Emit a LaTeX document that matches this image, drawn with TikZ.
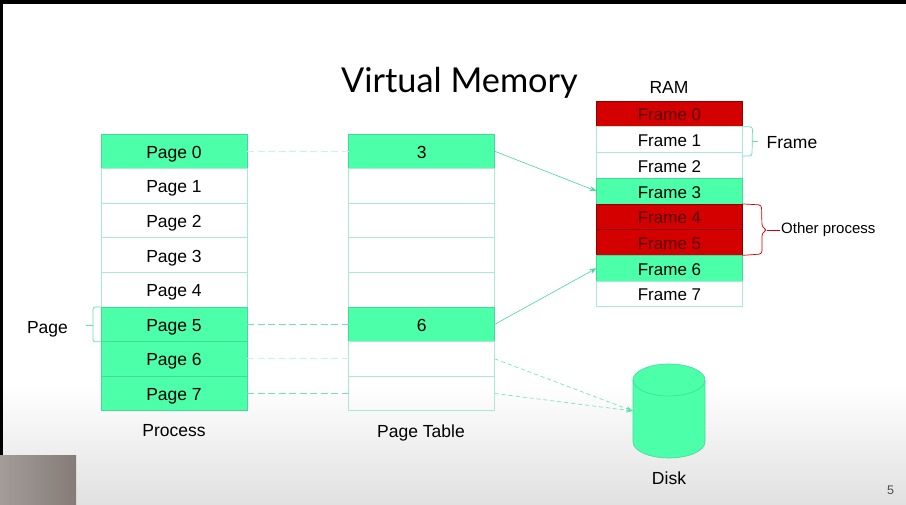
\documentclass[tikz,border=0pt]{standalone}
\usepackage{fontspec}
\setmainfont{Liberation Sans}
\newfontfamily\titlefont{Lato}
\usepackage{xcolor}
\usetikzlibrary{arrows.meta, positioning}

\definecolor{slidegreen}{HTML}{4CFFA9}
\definecolor{edgegreen}{HTML}{42D99A}
\definecolor{palegreen}{HTML}{A9EBD0}
\definecolor{dashgreen}{HTML}{C6F7E3}
\definecolor{slidered}{HTML}{D40000}
\definecolor{inkred}{HTML}{560404}
\definecolor{thumbleft}{HTML}{A39C98}
\definecolor{thumbright}{HTML}{857C78}

\begin{document}
\begin{tikzpicture}[
  x=1pt, y=-1pt,
  node distance = 0pt,
  cell/.style      = {rectangle, draw=palegreen, line width=0.8pt, outer sep=0pt, inner sep=0pt,
                      minimum width=146pt, font=\fontsize{17.5}{20}\selectfont,
                      text height=14pt, text depth=0pt},
  pagecell/.style  = {cell, minimum height=34.6pt},
  framecell/.style = {cell, minimum height=25.7pt, font=\fontsize{17}{20}\selectfont},
  mapped/.style    = {fill=slidegreen, draw=edgegreen},
  other/.style     = {fill=slidered, draw=inkred!60!slidered, text=inkred},
  caption/.style   = {inner sep=0pt, font=\fontsize{17.5}{20}\selectfont},
  brace/.style     = {edgegreen!80!white, line width=0.7pt, rounded corners=2.5pt},
  redbrace/.style  = {slidered, line width=0.7pt, rounded corners=3pt},
  arr/.style       = {-{Stealth[length=7pt,width=5pt]}, edgegreen, line width=0.6pt},
  dasharr/.style   = {-{Stealth[length=7pt,width=5pt]}, edgegreen!80!white, line width=0.6pt, dash pattern=on 4pt off 3pt},
  dim/.style       = {edgegreen!75!white, line width=1pt, dash pattern=on 7pt off 3.5pt},
  pale/.style      = {dashgreen, line width=1.2pt, dash pattern=on 7pt off 3.5pt},
]
\useasboundingbox (0,0) rectangle (906,505);
% slide background
\fill[white] (0,0) rectangle (906,505);
\fill[top color=white, bottom color=black!12] (0,385) rectangle (906,505);
\fill[black] (0,0) rectangle (906,4);
\fill[black] (0,0) rectangle (3,455);
\fill[left color=thumbleft, right color=thumbright] (0,455) rectangle (76,505);

\node[font=\titlefont\fontsize{34.3}{40}\selectfont, inner sep=0pt] (title) at (459.5,83) {Virtual Memory};

% process
\node[pagecell, mapped] (page0) at (174,151.3) {Page 0};
\node[pagecell, below=of page0] (page1) {Page 1};
\node[pagecell, below=of page1] (page2) {Page 2};
\node[pagecell, below=of page2] (page3) {Page 3};
\node[pagecell, below=of page3] (page4) {Page 4};
\node[pagecell, mapped, below=of page4] (page5) {Page 5};
\node[pagecell, mapped, below=of page5] (page6) {Page 6};
\node[pagecell, mapped, below=of page6] (page7) {Page 7};
\node[caption] (process) at (174,431) {Process};

% page table
\node[pagecell, mapped] (tab0) at (421.8,151.3) {3};
\node[pagecell, below=of tab0] (tab1) {};
\node[pagecell, below=of tab1] (tab2) {};
\node[pagecell, below=of tab2] (tab3) {};
\node[pagecell, below=of tab3] (tab4) {};
\node[pagecell, mapped, below=of tab4] (tab5) {6};
\node[pagecell, below=of tab5] (tab6) {};
\node[pagecell, below=of tab6] (tab7) {};
\node[caption] (pagetable) at (421,432.5) {Page Table};

% ram
\node[framecell, other] (frame0) at (669.5,114) {Frame 0};
\node[framecell, below=of frame0] (frame1) {Frame 1};
\node[framecell, below=of frame1] (frame2) {Frame 2};
\node[framecell, mapped, below=of frame2] (frame3) {Frame 3};
\node[framecell, other, below=of frame3] (frame4) {Frame 4};
\node[framecell, other, below=of frame4] (frame5) {Frame 5};
\node[framecell, mapped, below=of frame5] (frame6) {Frame 6};
\node[framecell, below=of frame6] (frame7) {Frame 7};
\node[caption] (ram) at (669,87) {RAM};

% disk
\node[minimum width=72pt, minimum height=94pt, inner sep=0pt, outer sep=0pt] (disk) at (669,411) {};
\draw[edgegreen, line width=0.6pt, fill=slidegreen]
  (633,380) arc[start angle=180, end angle=0, x radius=36pt, y radius=16pt]
  -- (705,442) arc[start angle=0, end angle=-180, x radius=36pt, y radius=16pt] -- cycle;
\draw[edgegreen, line width=0.6pt] (633,380) arc[start angle=180, end angle=360, x radius=36pt, y radius=16pt];
\node[caption] (disklabel) at (669,478) {Disk};

% labels
\node[caption] (pagelabel) at (47.5,329.5) {Page};
\node[caption] (framelabel) at (792,143) {Frame};
\node[inner sep=0pt, anchor=west, font=\fontsize{15}{16}\selectfont] (otherlabel) at (781,230) {Other process};
\node[text=black!70, font=\fontsize{12.5}{13}\selectfont, inner sep=0pt] (slidenum) at (890.5,490) {5};

% braces
\coordinate (pagetip) at (86,325);
\coordinate (frametip) at (758,141);
\coordinate (othertip) at (780,230);
\draw[brace] (page5.north west) -- ++(-8,0) -- (93,342) -- (page5.south west);
\draw[brace] (pagetip) -- (93,325);
\draw[brace] (frame1.north east) -- ++(10,0) -- (752,156) -- (742.5,156);
\draw[brace] (frametip) -- (752,141);
\draw[redbrace] (frame4.north east) -- ++(19,1) -- (762,227) -- (767,230) -- (762,233) -- (762,254) -- (frame5.south east);
\draw[redbrace] (othertip) -- (767,230);

% connectors
\draw[pale] (page0) -- (tab0);
\draw[dim]  (page5) -- (tab5);
\draw[pale] (page6) -- (tab6);
\draw[dim]  (page7) -- (tab7);
\draw[arr]  (tab0.east) -- (frame3.west);
\draw[arr]  (tab5.east) -- (frame6.west);
\draw[dasharr] (tab6.east) -- (disk.west);
\draw[dasharr] (tab7.east) -- (disk.west);
\end{tikzpicture}
\end{document}
